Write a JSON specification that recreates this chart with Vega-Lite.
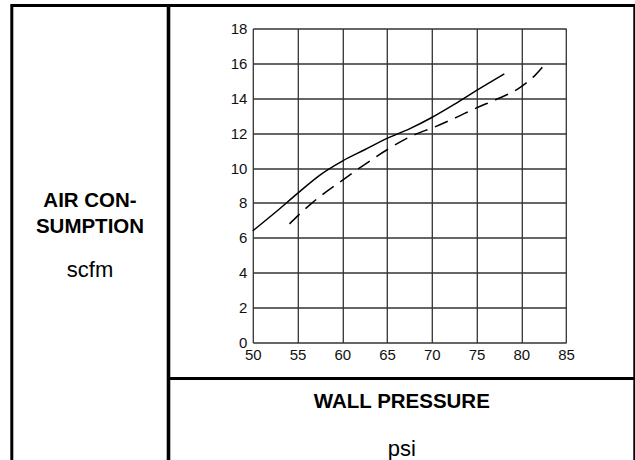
{
  "$schema": "https://vega.github.io/schema/vega-lite/v6.json",
  "padding": {"left": 9.8, "top": 3.5, "right": 0, "bottom": 0},
  "background": "white",
  "config": {
    "font": "Liberation Sans",
    "view": {"stroke": "black", "strokeWidth": 3, "fill": null},
    "concat": {"spacing": 0},
    "title": {
      "font": "Liberation Sans", "color": "black", "anchor": "middle",
      "fontSize": 20.5, "fontWeight": "bold", "lineHeight": 26,
      "subtitleFont": "Liberation Sans", "subtitleColor": "black",
      "subtitleFontSize": 22, "subtitleFontWeight": "normal"
    },
    "axis": {
      "labelFont": "Liberation Sans", "labelFontSize": 15, "labelColor": "#111",
      "gridColor": "#333", "gridWidth": 1.3, "gridOpacity": 1
    }
  },
  "datasets": {
    "curves": [
      {"pressure": 50, "scfm": 6.4, "curve": "A"},
      {"pressure": 52.5, "scfm": 7.45, "curve": "A"},
      {"pressure": 55, "scfm": 8.55, "curve": "A"},
      {"pressure": 57.5, "scfm": 9.6, "curve": "A"},
      {"pressure": 60, "scfm": 10.4, "curve": "A"},
      {"pressure": 62.5, "scfm": 11.05, "curve": "A"},
      {"pressure": 65, "scfm": 11.7, "curve": "A"},
      {"pressure": 67.5, "scfm": 12.25, "curve": "A"},
      {"pressure": 70, "scfm": 12.9, "curve": "A"},
      {"pressure": 72.5, "scfm": 13.65, "curve": "A"},
      {"pressure": 75, "scfm": 14.45, "curve": "A"},
      {"pressure": 78.1, "scfm": 15.4, "curve": "A"},
      {"pressure": 54.1, "scfm": 6.8, "curve": "B"},
      {"pressure": 56.5, "scfm": 7.95, "curve": "B"},
      {"pressure": 60, "scfm": 9.3, "curve": "B"},
      {"pressure": 62.2, "scfm": 10.1, "curve": "B"},
      {"pressure": 65, "scfm": 11.05, "curve": "B"},
      {"pressure": 68, "scfm": 11.9, "curve": "B"},
      {"pressure": 70.3, "scfm": 12.35, "curve": "B"},
      {"pressure": 72.5, "scfm": 12.85, "curve": "B"},
      {"pressure": 75, "scfm": 13.45, "curve": "B"},
      {"pressure": 77.5, "scfm": 14.0, "curve": "B"},
      {"pressure": 79.5, "scfm": 14.5, "curve": "B"},
      {"pressure": 80.6, "scfm": 14.9, "curve": "B"},
      {"pressure": 81.5, "scfm": 15.3, "curve": "B"},
      {"pressure": 82.7, "scfm": 16.0, "curve": "B"}
    ]
  },
  "spacing": 0,
  "bounds": "flush",
  "hconcat": [
    {
      "width": 156.4, "height": 473,
      "view": {"stroke": "black", "strokeWidth": 3},
      "data": {"values": []},
      "mark": "rule",
      "encoding": {},
      "title": {"text": ["AIR CON-", "SUMPTION"], "subtitle": "scfm", "subtitlePadding": 23, "offset": -276}
    },
    {
      "spacing": 0,
      "bounds": "flush",
      "vconcat": [
        {
          "width": 466, "height": 373,
          "data": {"name": "curves"},
          "layer": [
            {
              "transform": [{"filter": "datum.curve === 'A'"}],
              "mark": {"type": "line", "color": "black", "strokeWidth": 1.5, "interpolate": "monotone"},
              "encoding": {
                "x": {
                  "field": "pressure", "type": "quantitative",
                  "scale": {"domain": [50, 85], "range": [84, 397.3], "nice": false, "zero": false},
                  "axis": {"orient": "top", "title": null, "values": [50, 55, 60, 65, 70, 75, 80, 85], "grid": true, "labels": false, "domain": false, "ticks": false}
                },
                "y": {
                  "field": "scfm", "type": "quantitative",
                  "scale": {"domain": [0, 18], "range": [337, 23], "nice": false, "zero": false},
                  "axis": {"title": null, "values": [0, 2, 4, 6, 8, 10, 12, 14, 16, 18], "grid": true, "domain": false, "ticks": false, "offset": -84, "labelPadding": 6, "labelFlush": false, "labelOverlap": false, "labelBound": false}
                }
              }
            },
            {
              "transform": [{"filter": "datum.curve === 'B'"}],
              "mark": {"type": "line", "color": "black", "strokeWidth": 1.5, "strokeDash": [14, 8], "interpolate": "monotone"},
              "encoding": {
                "x": {
                  "field": "pressure", "type": "quantitative",
                  "axis": {"orient": "bottom", "title": null, "values": [50, 55, 60, 65, 70, 75, 80, 85], "grid": false, "domain": false, "ticks": false, "offset": -36, "labelPadding": 5, "labelFlush": false, "labelOverlap": false, "labelBound": false}
                },
                "y": {
                  "field": "scfm", "type": "quantitative",
                  "axis": {"title": null, "values": [0, 2, 4, 6, 8, 10, 12, 14, 16, 18], "grid": true, "domain": false, "ticks": false, "offset": -84, "labelPadding": 6, "labelFlush": false, "labelOverlap": false, "labelBound": false}
                }
              }
            }
          ],
          "resolve": {"axis": {"x": "independent"}}
        },
        {
          "width": 466, "height": 100,
          "view": {"stroke": "black", "strokeWidth": 3},
          "data": {"values": []},
          "mark": "rule",
          "encoding": {},
          "title": {"text": "WALL PRESSURE", "subtitle": "psi", "subtitlePadding": 27, "offset": -82}
        }
      ]
    }
  ]
}
